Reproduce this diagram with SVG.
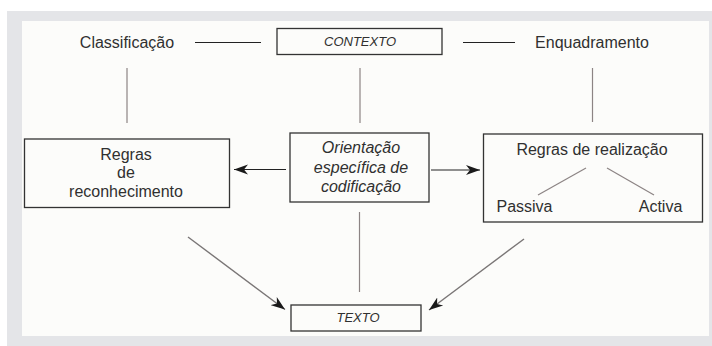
<svg xmlns="http://www.w3.org/2000/svg" width="712" height="346" viewBox="0 0 712 346">
<style>
.t{font-family:"Liberation Sans",Arial,sans-serif;font-size:16px;fill:#303030;text-anchor:middle}
.i{font-style:italic}
.s{font-size:13px}
.box{fill:#fcfcfa;stroke:#333;stroke-width:1.3}
.ln{stroke:#222;stroke-width:1.1;fill:none}
.gl{stroke:#8c8484;stroke-width:1.2;fill:none}
.dg{stroke:#7a7676;stroke-width:1.4;fill:none}
</style>
<defs>
<marker id="ah" markerUnits="userSpaceOnUse" markerWidth="16" markerHeight="12" refX="14" refY="6" orient="auto">
<path d="M0,1 L14,6 L0,11 L4,6 z" fill="#1a1a1a"/>
</marker>
</defs>
<rect x="7" y="11" width="705" height="335" fill="#e4e5e8"/>
<rect x="22" y="21" width="687" height="315" fill="#fcfcfa"/>
<g id="classificacao"><text class="t" x="127" y="48">Classificação</text></g>
<g id="contexto"><rect class="box" x="277" y="28.5" width="165" height="26"/><text class="t i s" x="360" y="46">CONTEXTO</text></g>
<g id="enquadramento"><text class="t" x="592" y="48">Enquadramento</text></g>
<g id="reconhecimento"><rect class="box" x="24.5" y="139" width="205" height="68.5"/>
<text class="t" x="126" y="160">Regras</text><text class="t" x="126" y="178">de</text><text class="t" x="126" y="196.5">reconhecimento</text></g>
<g id="orientacao"><rect class="box" x="290" y="133" width="139" height="69"/>
<text class="t i" x="361" y="153">Orientação</text><text class="t i" x="361" y="172.5">específica de</text><text class="t i" x="361" y="191.5">codificação</text></g>
<g id="realizacao"><rect class="box" x="483.5" y="134" width="219" height="88"/>
<text class="t" x="592" y="155">Regras de realização</text>
<text class="t" x="524.5" y="212">Passiva</text><text class="t" x="660.5" y="212">Activa</text></g>
<g id="texto"><rect class="box" x="291" y="305" width="130" height="26"/><text class="t i s" x="358" y="322">TEXTO</text></g>
<g id="connectors">
<line class="ln" x1="195" y1="42.5" x2="261" y2="42.5"/>
<line class="ln" x1="463" y1="42.5" x2="515" y2="42.5"/>
<line class="gl" x1="127" y1="68" x2="127" y2="123"/>
<line class="gl" x1="360" y1="68" x2="360" y2="123"/>
<line class="gl" x1="592.5" y1="68" x2="592.5" y2="122"/>
<line class="gl" x1="359.5" y1="212" x2="359.5" y2="292"/>
<line class="ln" x1="286" y1="169.5" x2="234" y2="169.5" marker-end="url(#ah)"/>
<line class="ln" x1="431" y1="170" x2="480" y2="170" marker-end="url(#ah)"/>
<line class="gl" x1="586" y1="168" x2="538" y2="195"/>
<line class="gl" x1="607" y1="168" x2="654" y2="195"/>
<line class="dg" x1="188" y1="237" x2="285" y2="309.5" marker-end="url(#ah)"/>
<line class="dg" x1="524" y1="239" x2="429" y2="310" marker-end="url(#ah)"/>
</g>
</svg>
